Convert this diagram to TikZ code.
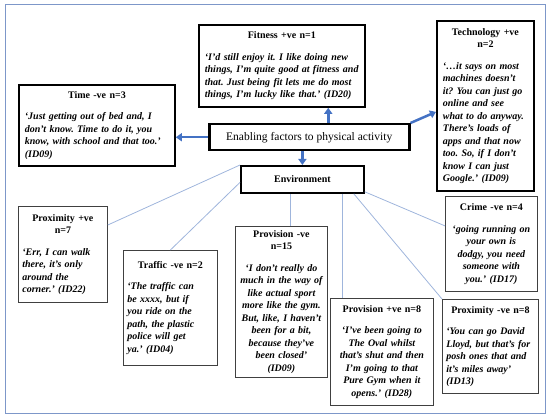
\documentclass[tikz,border=0pt]{standalone}
\usepackage{fontspec}
\setmainfont{Liberation Serif}
\usetikzlibrary{arrows.meta}
\frenchspacing

\definecolor{framecol}{HTML}{7D97C9}
\definecolor{arrowcol}{HTML}{4472C4}
\definecolor{linkcol}{HTML}{9FB5DC}

\newcommand{\boxhead}[1]{{\centering\bfseries #1\par}\vspace{9pt}}

\begin{document}
\begin{tikzpicture}[x=1pt, y=-1pt,
    themebox/.style={draw, line width=1.8pt, anchor=north west, inner xsep=6pt,
                     align=left, font=\fontsize{10}{12.5}\selectfont},
    subbox/.style={draw=black!75, line width=0.8pt, anchor=north west, inner xsep=4pt,
                   align=left, font=\fontsize{10}{12.5}\selectfont},
    pointer/.style={arrowcol, line width=2.5pt, -{Triangle[length=6pt, width=8pt]}},
    link/.style={linkcol, line width=0.8pt}]
            \useasboundingbox (0,0) rectangle (550,419);
            % draw outer frame
            \draw[framecol, line width=1pt] (5,5) rectangle (545,414);

            % draw central boxes
            \node[themebox, line width=2.5pt, minimum width=200, minimum height=26, align=center,
                  font=\fontsize{11.5}{13}\selectfont] (enable) at (208,123)
                  {Enabling factors to physical activity};
            \node[themebox, minimum width=123, minimum height=27, align=center, font=\fontsize{10}{12}\bfseries]
                  (env) at (240,165) {Environment};

            % draw factor boxes
            \node[themebox, minimum width=156, minimum height=81, text width=144pt] (time) at (18,84)
                  {\boxhead{Time -ve n=3}{\bfseries\itshape `Just getting out of bed and, I\\
                   don't know. Time to do it, you\\ know, with school and that too.'\\ (ID09)}};
            \node[themebox, minimum width=166, minimum height=82, text width=154pt] (fitness) at (198,24)
                  {\boxhead{Fitness +ve n=1}{\bfseries\itshape `I'd still enjoy it. I like doing new\\
                   things, I'm quite good at fitness and\\ that. Just being fit lets me do most\\
                   things, I'm lucky like that.' (ID20)}};
            \node[themebox, minimum width=97, minimum height=170, text width=85pt] (tech) at (436,20)
                  {\boxhead{Technology +ve\\ n=2}{\bfseries\itshape `\dots it says on most\\ machines doesn't\\
                   it? You can just go\\ online and see\\ what to do anyway.\\ There's loads of\\
                   apps and that now\\ too. So, if I don't\\ know I can just\\ Google.' (ID09)}};

            % draw environment boxes
            \node[subbox, minimum width=89, minimum height=96, text width=81pt] (prox7) at (18,206)
                  {\boxhead{Proximity +ve\\ n=7}{\bfseries\itshape `Err, I can walk\\ there, it's only\\
                   around the\\ corner.' (ID22)}};
            \node[subbox, minimum width=94, minimum height=115, text width=86pt] (traffic) at (123,250)
                  {\boxhead{Traffic -ve n=2}{\bfseries\itshape `The traffic can\\ be xxxx, but if\\
                   you ride on the\\ path, the plastic\\ police will get\\ ya.' (ID04)}};
            \node[subbox, minimum width=92, minimum height=151, text width=84pt, align=center] (provm) at (235,226)
                  {\boxhead{Provision -ve\\ n=15}{\bfseries\itshape `I don't really do\\ much in the way of\\
                   like actual sport\\ more like the gym.\\ But, like, I haven't\\ been for a bit,\\
                   because they've\\ been closed'\\ (ID09)}};
            \node[subbox, minimum width=103, minimum height=107, text width=95pt, align=center] (provp) at (330,298)
                  {\boxhead{Provision +ve n=8}{\bfseries\itshape `I've been going to\\ The Oval whilst\\
                   that's shut and then\\ I'm going to that\\ Pure Gym when it\\ opens.' (ID28)}};
            \node[subbox, minimum width=92, minimum height=95, text width=84pt, align=center] (crime) at (445,196)
                  {\boxhead{Crime -ve n=4}{\bfseries\itshape `going running on\\ your own is\\
                   dodgy, you need\\ someone with\\ you.' (ID17)}};
            \node[subbox, minimum width=96, minimum height=94, text width=88pt] (proxm) at (442,299)
                  {\boxhead{Proximity -ve n=8}{\bfseries\itshape `You can go David\\ Lloyd, but that's for\\
                   posh ones that and\\ it's miles away'\\ (ID13)}};

            % draw arrows out of the centre
            \draw[pointer] (enable.west) -- (enable.west -| time.east);
            \draw[pointer] ([xshift=19pt]enable.north) -- ([xshift=19pt]enable.north |- fitness.south);
            \draw[pointer] (enable.north east) -- ([yshift=-6pt]tech.west);
            \draw[pointer] (enable.south -| env.north) -- (env.north);

            % draw links from environment
            \draw[link] (env.north west) -- ([yshift=-19pt]prox7.north east);
            \draw[link] ([yshift=-3pt]env.west) -- (traffic.north);
            \draw[link] ([xshift=9pt]provm.north |- env.south) -- ([xshift=9pt]provm.north);
            \draw[link] ([xshift=-22pt]env.south east) -- ([xshift=-22pt]env.south east |- provp.north);
            \draw[link] ([xshift=-11pt]env.south east) -- (proxm.north west);
            \draw[link] ([yshift=2pt]env.south east) -- ([yshift=18pt]crime.west);
\end{tikzpicture}
\end{document}
